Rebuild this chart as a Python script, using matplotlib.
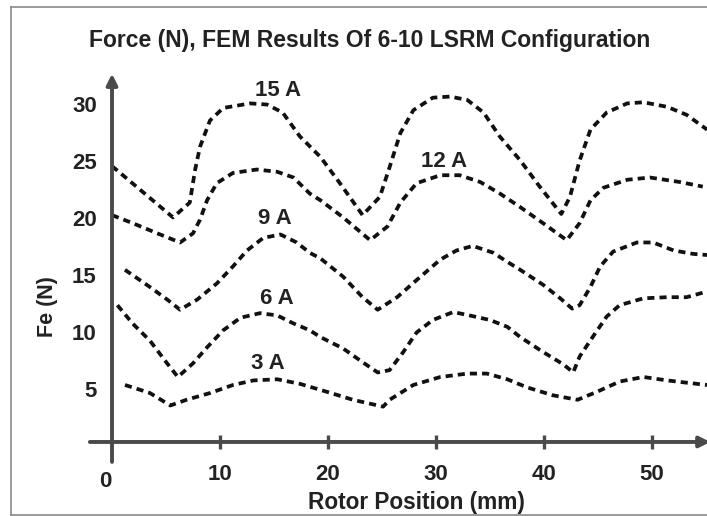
import numpy as np
import matplotlib.pyplot as plt
import matplotlib.transforms as mtransforms
from matplotlib.lines import Line2D

plt.rcParams['font.family'] = ['Liberation Sans', 'DejaVu Sans']
plt.rcParams['font.weight'] = 'bold'

# traced curves: rotor position (mm) and force (N)
x_15a = [0.0, 5.65, 7.2, 7.7, 8.15, 9.07, 10.3, 12.8, 14.35, 15.8, 17.4, 19.3, 21.1, 23.2,
         24.8, 25.7, 26.7, 27.9, 29.7, 31.3, 32.9, 34.4, 35.9, 37.8, 39.6, 41.6,
         42.4, 43.3, 44.3, 45.8, 47.7, 49.2, 51.4, 53.2, 55.1]
y_15a = [24.2, 19.7, 21.0, 23.9, 25.9, 28.2, 29.3, 29.7, 29.6, 28.9, 26.8, 25.0, 22.7, 19.9,
         21.5, 24.1, 27.1, 29.1, 30.2, 30.3, 30.0, 28.9, 26.8, 24.7, 22.4, 20.0,
         21.5, 24.7, 27.4, 28.9, 29.7, 29.8, 29.4, 28.7, 27.4]

x_12a = [0.0, 1.9, 4.2, 6.3, 7.5, 8.15, 8.8, 9.7, 11.2, 13.4, 15.3, 16.8, 18.3, 19.3, 21.4,
         23.9, 25.5, 26.7, 28.2, 30.4, 32.2, 34.1, 35.9, 37.8, 39.9, 42.1,
         43.3, 44.3, 45.5, 47.7, 49.8, 52.6, 54.7]
y_12a = [19.9, 19.2, 18.3, 17.5, 18.3, 19.5, 21.2, 22.7, 23.6, 23.9, 23.7, 23.2, 21.8, 21.2, 19.7,
         17.7, 18.9, 21.0, 22.7, 23.4, 23.4, 22.8, 21.8, 20.6, 19.2, 17.7,
         19.2, 21.2, 22.3, 23.0, 23.2, 22.8, 22.4]

x_9a = [1.2, 3.5, 5.1, 6.3, 7.9, 9.7, 11.2, 12.5, 14.0, 15.6, 17.1, 18.3, 19.3, 21.4, 23.2,
        24.6, 26.4, 28.2, 30.4, 31.9, 33.4, 35.3, 36.6, 37.8, 39.9, 41.5, 42.6,
        43.3, 44.3, 45.2, 46.4, 48.6, 50.1, 52.0, 53.8, 55.1]
y_9a = [15.1, 13.6, 12.5, 11.6, 12.5, 13.9, 15.4, 16.8, 17.9, 18.2, 17.5, 16.6, 16.1, 14.5, 12.7,
        11.6, 12.7, 14.2, 16.0, 16.8, 17.2, 16.6, 15.8, 15.1, 13.8, 12.6, 11.7,
        12.0, 13.6, 15.4, 16.7, 17.5, 17.5, 16.8, 16.5, 16.4]

x_6a = [0.5, 1.9, 3.5, 5.1, 6.1, 7.5, 8.8, 10.3, 11.9, 13.7, 15.3, 16.8, 18.3, 19.3, 21.4, 23.2,
        24.6, 25.7, 26.9, 28.2, 29.7, 31.6, 33.1, 35.0, 36.6, 37.8, 39.9, 41.8, 42.7,
        43.3, 44.5, 45.8, 47.0, 49.2, 51.4, 53.2, 55.1]
y_6a = [12.0, 10.4, 8.9, 6.9, 5.7, 6.9, 8.3, 9.8, 10.9, 11.3, 11.1, 10.4, 9.8, 9.2, 8.2, 7.0,
        6.1, 6.3, 7.8, 9.6, 10.7, 11.4, 11.1, 10.7, 10.1, 9.2, 7.9, 6.8, 6.1,
        7.5, 9.2, 11.0, 12.0, 12.6, 12.7, 12.7, 13.2]

x_3a = [1.2, 3.5, 5.4, 6.9, 9.1, 11.2, 13.1, 15.3, 17.4, 19.9, 22.3, 25.1,
        25.7, 27.9, 30.4, 32.9, 34.7, 36.6, 38.4, 40.8, 43.1,
        44.9, 47.0, 49.2, 51.4, 53.2, 55.1]
y_3a = [5.0, 4.3, 3.2, 3.7, 4.3, 5.0, 5.4, 5.5, 5.1, 4.4, 3.7, 3.1,
        3.7, 5.0, 5.7, 6.0, 6.0, 5.5, 4.8, 4.1, 3.7,
        4.4, 5.3, 5.7, 5.4, 5.2, 5.0]

curves = [(x_15a, y_15a), (x_12a, y_12a), (x_9a, y_9a), (x_6a, y_6a), (x_3a, y_3a)]
curve_labels = ['15 A', '12 A', '9 A', '6 A', '3 A']
label_pos = [(15.4, 30.8), (30.7, 24.6), (15.1, 19.6), (15.3, 12.6), (14.4, 6.9)]

x_ticks = [10, 20, 30, 40, 50]
y_ticks = [5, 10, 15, 20, 25, 30]

W, H = 707, 516
fig = plt.figure(figsize=(W / 100, H / 100), dpi=100)
ax = fig.add_axes([85 / W, (H - 465) / H, 622 / W, 395 / H])
ax.set_xlim(-2.5, 55.09)
ax.set_ylim(-2.02, 32.63)
ax.patch.set_alpha(0)

for xs, ys in curves:
    ax.plot(xs, ys, color='#111111', lw=2.7, dashes=(1.9, 1.35),
            dash_capstyle='butt', solid_joinstyle='round')

for lab, (lx, ly) in zip(curve_labels, label_pos):
    ax.text(lx, ly, lab, ha='center', va='center', fontsize=16,
            fontweight='bold', color='#222222')

axis_col = '#4a4a4a'
for s in ['top', 'right']:
    ax.spines[s].set_visible(False)
# spines kept at data zero so ticks sit on the arrows, but hidden
ax.spines['left'].set_position(('data', 0))
ax.spines['bottom'].set_position(('data', 0))
ax.spines['left'].set_visible(False)
ax.spines['bottom'].set_visible(False)

# axes drawn as arrows
ax.annotate('', xy=(0, 32.3), xytext=(0, -1.75),
            arrowprops=dict(arrowstyle='-|>', lw=2.8, color=axis_col,
                            mutation_scale=16, shrinkA=0, shrinkB=0),
            annotation_clip=False)
ax.annotate('', xy=(55.4, 0), xytext=(-2.05, 0),
            arrowprops=dict(arrowstyle='-|>', lw=2.8, color=axis_col,
                            mutation_scale=16, shrinkA=0, shrinkB=0),
            annotation_clip=False)

ax.set_xticks(x_ticks)
ax.set_xticklabels([str(t) for t in x_ticks])
ax.xaxis.set_ticks_position('bottom')
ax.tick_params(axis='x', direction='inout', length=9.5, width=2.4,
               color=axis_col, labelsize=16, pad=11, labelcolor='#222222')
ax.set_yticks(y_ticks)
ax.set_yticklabels([str(t) for t in y_ticks])
ax.yaxis.set_ticks_position('left')
ax.tick_params(axis='y', length=0, labelsize=16, pad=11, labelcolor='#222222')
shift_down = mtransforms.ScaledTranslation(0, -4 / 100, fig.dpi_scale_trans)
for lbl in ax.get_xticklabels() + ax.get_yticklabels():
    lbl.set_fontweight('bold')
for lbl in ax.get_yticklabels():
    lbl.set_transform(lbl.get_transform() + shift_down)
ax.text(-0.6, -3.5, '0', ha='center', va='center', fontsize=16,
        fontweight='bold', color='#222222', clip_on=False)

fig.text(370 / W, 1 - 40 / H, 'Force (N), FEM Results Of 6-10 LSRM Configuration',
         ha='center', va='center', fontsize=16.5, fontweight='bold', color='#222222')
fig.text(47 / W, 1 - 307 / H, 'Fe (N)', rotation=90, ha='center', va='center',
         fontsize=15.5, fontweight='bold', color='#222222')
fig.text(416 / W, 1 - 502 / H, 'Rotor Position (mm)', ha='center', va='center',
         fontsize=16.3, fontweight='bold', color='#222222')

# grey frame around the picture
frame = dict(color='#8a8a8a', lw=1.2)
fig.add_artist(Line2D([11 / W, 1], [1 - 7 / H, 1 - 7 / H], **frame))
fig.add_artist(Line2D([11 / W, 11 / W], [1 - 7 / H, 1 - 515 / H], **frame))
fig.add_artist(Line2D([11 / W, 1], [1 - 515 / H, 1 - 515 / H], **frame))

fig.savefig('out.png', dpi=100)
